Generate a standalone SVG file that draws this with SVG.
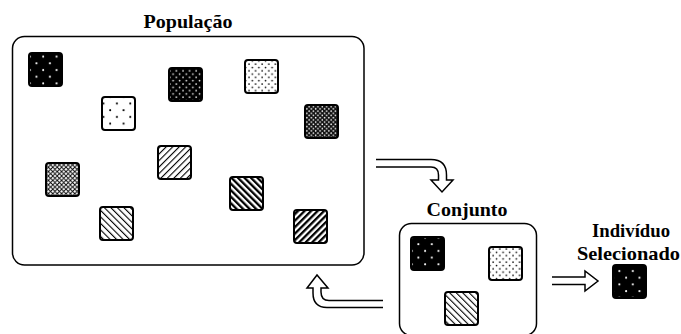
<svg xmlns="http://www.w3.org/2000/svg" width="681" height="334" viewBox="0 0 681 334">
<style>
.box{fill:none;stroke:#000;stroke-width:1.5}
.sq{stroke:#000;stroke-width:2}
.lbl{font-family:"Liberation Serif","Times New Roman",serif;font-weight:bold;font-size:19px;fill:#000;text-anchor:middle}
.arr{fill:#fff;stroke:#000;stroke-width:1.5;stroke-linejoin:miter}
</style>
<defs>
<pattern id="blackDots" width="13.4" height="13.4" patternUnits="userSpaceOnUse">
<rect width="13.4" height="13.4" fill="#000"/>
<circle cx="3" cy="3" r="1" fill="#fff"/><circle cx="9.7" cy="9.7" r="1" fill="#fff"/>
</pattern>
<pattern id="whiteDots" width="13.4" height="13.4" patternUnits="userSpaceOnUse">
<rect width="13.4" height="13.4" fill="#fff"/>
<circle cx="3" cy="3" r="1" fill="#000"/><circle cx="9.7" cy="9.7" r="1" fill="#000"/>
</pattern>
<pattern id="blackDense" width="6.6" height="6.6" patternUnits="userSpaceOnUse">
<rect width="6.6" height="6.6" fill="#000"/>
<circle cx="1.5" cy="1.5" r="0.85" fill="#fff"/><circle cx="4.8" cy="4.8" r="0.85" fill="#fff"/>
</pattern>
<pattern id="whiteDense" width="6.6" height="6.6" patternUnits="userSpaceOnUse">
<rect width="6.6" height="6.6" fill="#fff"/>
<circle cx="1.5" cy="1.5" r="0.85" fill="#000"/><circle cx="4.8" cy="4.8" r="0.85" fill="#000"/>
</pattern>
<pattern id="darkCross" width="4.4" height="4.4" patternUnits="userSpaceOnUse">
<rect width="4.4" height="4.4" fill="#111"/>
<circle cx="1.1" cy="1.1" r="0.8" fill="#fff"/><circle cx="3.3" cy="3.3" r="0.8" fill="#fff"/>
</pattern>
<pattern id="lightCross" width="4.4" height="4.4" patternUnits="userSpaceOnUse">
<rect width="4.4" height="4.4" fill="#fff"/>
<path d="M0,0 L4.4,4.4 M4.4,0 L0,4.4" stroke="#000" stroke-width="0.9"/>
</pattern>
<pattern id="slashLight" width="4.6" height="4.6" patternUnits="userSpaceOnUse" patternTransform="rotate(45)">
<rect width="4.6" height="4.6" fill="#fff"/>
<rect x="0" width="1.1" height="4.6" fill="#000"/>
</pattern>
<pattern id="slashDark" width="4.6" height="4.6" patternUnits="userSpaceOnUse" patternTransform="rotate(45)">
<rect width="4.6" height="4.6" fill="#fff"/>
<rect x="0" width="2.3" height="4.6" fill="#000"/>
</pattern>
<pattern id="backLight" width="4.6" height="4.6" patternUnits="userSpaceOnUse" patternTransform="rotate(-45)">
<rect width="4.6" height="4.6" fill="#fff"/>
<rect x="0" width="1.1" height="4.6" fill="#000"/>
</pattern>
<pattern id="backDark" width="4.6" height="4.6" patternUnits="userSpaceOnUse" patternTransform="rotate(-45)">
<rect width="4.6" height="4.6" fill="#fff"/>
<rect x="0" width="2.3" height="4.6" fill="#000"/>
</pattern>
</defs>

<g id="populacao">
<text class="lbl" x="188" y="28" textLength="89" lengthAdjust="spacingAndGlyphs">População</text>
<rect class="box" x="12.5" y="36.5" width="351.5" height="228.5" rx="12"/>
<rect class="sq" x="29" y="53" width="33" height="33" rx="3" fill="url(#blackDots)"/>
<rect class="sq" x="169" y="68" width="33" height="33" rx="3" fill="url(#blackDense)"/>
<rect class="sq" x="245" y="60" width="33" height="33" rx="3" fill="url(#whiteDense)"/>
<rect class="sq" x="102" y="97" width="33" height="33" rx="3" fill="url(#whiteDots)"/>
<rect class="sq" x="305" y="105" width="33" height="33" rx="3" fill="url(#darkCross)"/>
<rect class="sq" x="158" y="146" width="33" height="33" rx="3" fill="url(#slashLight)"/>
<rect class="sq" x="46" y="163" width="33" height="33" rx="3" fill="url(#lightCross)"/>
<rect class="sq" x="230" y="177" width="33" height="33" rx="3" fill="url(#backDark)"/>
<rect class="sq" x="100" y="207" width="33" height="33" rx="3" fill="url(#backLight)"/>
<rect class="sq" x="294" y="210" width="33" height="33" rx="3" fill="url(#slashDark)"/>
</g>

<g id="conjunto">
<text class="lbl" x="467" y="216" textLength="81" lengthAdjust="spacingAndGlyphs">Conjunto</text>
<rect class="box" x="399.5" y="223.5" width="137" height="112" rx="12"/>
<rect class="sq" x="411" y="237" width="33" height="33" rx="3" fill="url(#blackDots)"/>
<rect class="sq" x="489" y="247" width="33" height="33" rx="3" fill="url(#whiteDense)"/>
<rect class="sq" x="445" y="292" width="33" height="33" rx="3" fill="url(#backLight)"/>
</g>

<g id="selecionado">
<text class="lbl" x="631" y="237" textLength="78" lengthAdjust="spacingAndGlyphs">Indivíduo</text>
<text class="lbl" x="628.5" y="260" textLength="103" lengthAdjust="spacingAndGlyphs">Selecionado</text>
<rect class="sq" x="613" y="265" width="33" height="33" rx="3" fill="url(#blackDots)"/>
</g>

<g id="connectors">
<path class="arr" d="M376,159.5 H431 Q446.5,159.5 446.5,175 V180 H453 L442,192 L431,180 H438.5 V175 Q438.5,167 431,167 H376"/>
<path class="arr" d="M383,300.5 H329 Q321,300.5 321,292 V288 H328 L317,275 L307,288 H313 V293 Q313,307.5 327,307.5 H383"/>
<path class="arr" d="M552,277 H585 V271 L598,281 L585,291 V284.5 H552"/>
</g>
</svg>
